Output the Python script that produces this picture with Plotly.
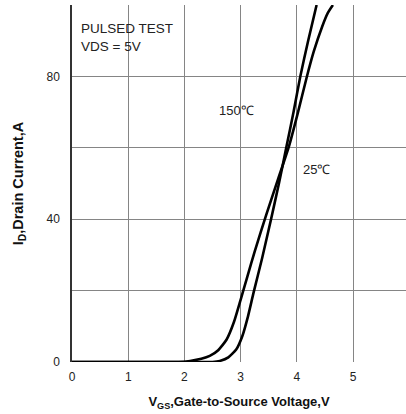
import plotly.graph_objects as go

# 150°C curve (rises first, lower slope; ends to the right at the top)
vgs_150 = [0, 1, 1.9, 2.1, 2.3, 2.45, 2.6, 2.75, 2.88, 3.0, 3.12, 3.25, 3.46, 3.66, 3.86, 4.02, 4.17, 4.3, 4.45, 4.55, 4.64]
id_150 = [0, 0, 0, 0.3, 0.9, 1.7, 3.3, 6.3, 11.2, 17.5, 24, 31, 41.5, 51, 60.5, 70, 79.5, 87, 94, 97.8, 100]

# 25°C curve (rises later, steeper; ends to the left at the top)
vgs_25 = [0, 1, 2, 2.5, 2.63, 2.78, 2.92, 3.03, 3.13, 3.23, 3.38, 3.54, 3.68, 3.81, 3.94, 4.06, 4.2, 4.35]
id_25 = [0, 0, 0, 0, 0.3, 1.3, 3.5, 7.3, 12.8, 19.5, 29, 40, 50, 60, 70, 80, 90, 100]

x_ticks = [0, 1, 2, 3, 4, 5]
y_ticks = [0, 20, 40, 60, 80, 100]
y_tick_text = ["0", "", "40", "", "80", ""]

font = "Liberation Sans, Arial, sans-serif"

fig = go.Figure()
for xs, ys in [(vgs_150, id_150), (vgs_25, id_25)]:
    fig.add_trace(go.Scatter(x=xs, y=ys, mode="lines",
                             line=dict(color="black", width=2.6, shape="spline", smoothing=0.5),
                             showlegend=False, hoverinfo="skip"))

fig.update_layout(
    width=406, height=414,
    margin=dict(l=72, r=0, t=5, b=52),
    paper_bgcolor="white", plot_bgcolor="white",
    font=dict(family=font, size=12, color="#222"),
    xaxis=dict(range=[0, 5.94], tickvals=x_ticks, showgrid=True, gridcolor="#858585", gridwidth=1,
               zeroline=False, showline=False, ticks="outside", ticklen=4, tickcolor="rgba(0,0,0,0)",
               tickfont=dict(size=12, color="#222"), automargin=False,
               title=dict(text="<b>V<sub>GS</sub>,Gate-to-Source Voltage,V</b>", standoff=13,
                          font=dict(size=13, color="#111"))),
    yaxis=dict(range=[0, 100], tickvals=y_ticks, ticktext=y_tick_text, showgrid=True,
               gridcolor="#858585", gridwidth=1, zeroline=False, showline=True, linecolor="#333",
               linewidth=1.5, ticks="outside", ticklen=8, tickcolor="rgba(0,0,0,0)",
               tickfont=dict(size=12, color="#222"), automargin=False,
               title=dict(text="<b>I<sub>D</sub>,Drain Current,A</b>", standoff=19,
                          font=dict(size=14.5, color="#111"))),
)

fig.add_annotation(x=0.13, y=96, xref="x", yref="y", xanchor="left", yanchor="top",
                   text="PULSED TEST<br>VDS = 5V", showarrow=False, align="left",
                   font=dict(size=13.5, color="#222", family=font))
fig.add_annotation(x=2.92, y=70.5, xref="x", yref="y", xanchor="center", yanchor="middle",
                   text="150℃", showarrow=False, font=dict(size=13, color="#222", family=font))
fig.add_annotation(x=4.34, y=54, xref="x", yref="y", xanchor="center", yanchor="middle",
                   text="25℃", showarrow=False, font=dict(size=13, color="#222", family=font))

fig.write_html("out.html", config={"displayModeBar": False},
               post_script="document.body.style.margin='0px';")
